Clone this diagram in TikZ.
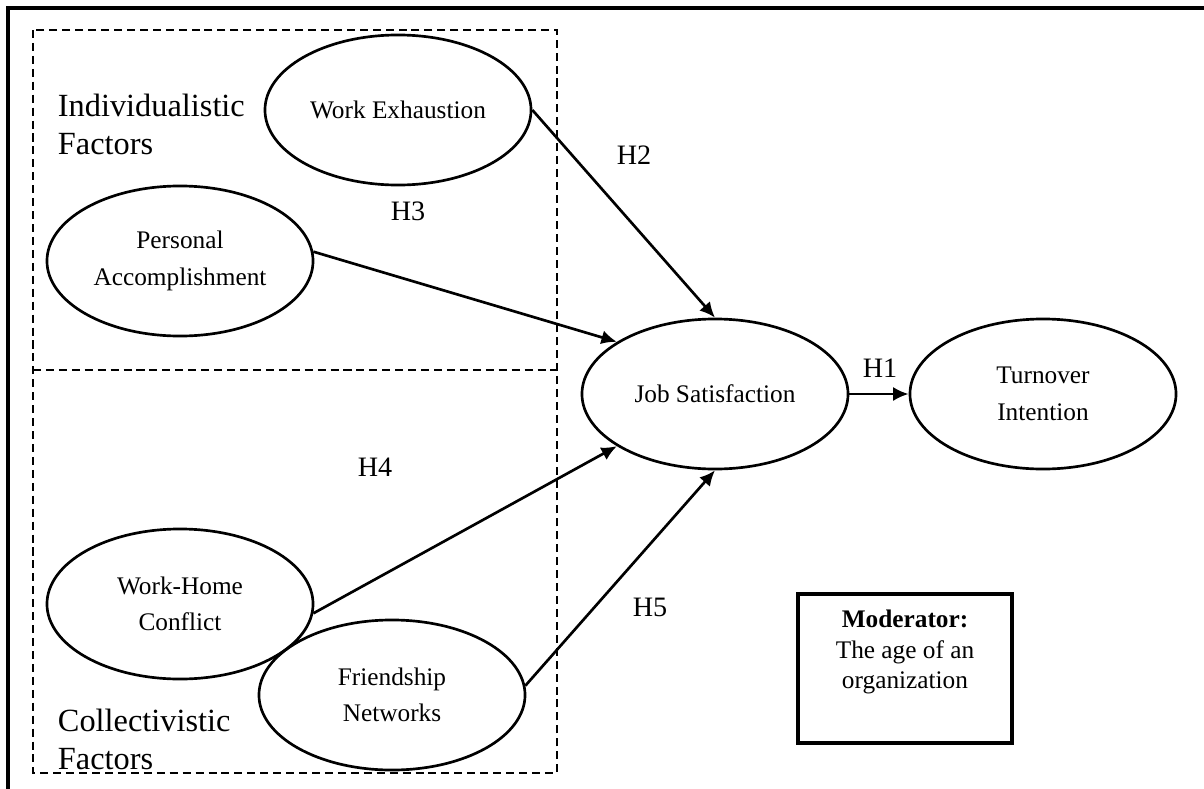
\documentclass[tikz,border=0pt]{standalone}
\usepackage{fontspec}
\setmainfont{Liberation Serif}
\usetikzlibrary{shapes.geometric,arrows.meta}
\begin{document}
\begin{tikzpicture}[x=0.025cm,y=-0.025cm,
	factor/.style={ellipse,draw,line width=1.9pt,minimum width=6.65cm,minimum height=3.75cm,
		inner sep=0pt,align=center,font=\fontsize{18}{26}\selectfont},
	hyp/.style={-{Latex[length=11pt,width=10pt]},line width=1.9pt},
	hlabel/.style={font=\fontsize{20}{24}\selectfont},
	group/.style={anchor=west,align=left,font=\fontsize{23}{27}\selectfont},
	region/.style={dashed,dash pattern=on 5.7pt off 3.5pt,line width=1.2pt}]
	\useasboundingbox (0,0) rectangle (1204,789);
	\draw[line width=2.4pt] (8,8) rectangle (1240,830);
	% dashed groups
	\draw[region] (33,30) rectangle (557,773);
	\draw[region] (33,370) -- (557,370);
	\node[group] (indiv) at (53,124) {Individualistic\\Factors};
	\node[group] (coll) at (53,739) {Collectivistic\\Factors};
	% factors
	\node[factor] (we) at (398,110) {Work Exhaustion};
	\node[factor] (pa) at (180,261) {Personal\\Accomplishment};
	\node[factor] (whc) at (180,604) {Work-Home\\Conflict};
	\node[factor] (fn) at (392,695) {Friendship\\Networks};
	\node[factor] (js) at (715,394) {Job Satisfaction};
	\node[factor] (ti) at (1043,394) {Turnover\\Intention};
	% moderator
	\draw[line width=2.2pt] (798,594) rectangle (1012,743);
	\node[align=center,font=\fontsize{18}{22}\selectfont] (mod) at (905,652)
		{\textbf{Moderator:}\\The age of an\\organization};
	% hypotheses
	\draw[hyp] (we.east) -- (js.north);
	\draw[hyp] (pa.4) -- (js.152);
	\draw[hyp] (whc.-4) -- (js.208);
	\draw[hyp] (fn.4) -- (js.south);
	\draw[hyp] (js.east) -- (ti.west);
	\node[hlabel] (h1) at (880,368) {H\oldstylenums{1}};
	\node[hlabel] (h2) at (634,155) {H\oldstylenums{2}};
	\node[hlabel] (h3) at (408,211) {H\oldstylenums{3}};
	\node[hlabel] (h4) at (375,467) {H\oldstylenums{4}};
	\node[hlabel] (h5) at (650,607) {H\oldstylenums{5}};
\end{tikzpicture}
\end{document}
